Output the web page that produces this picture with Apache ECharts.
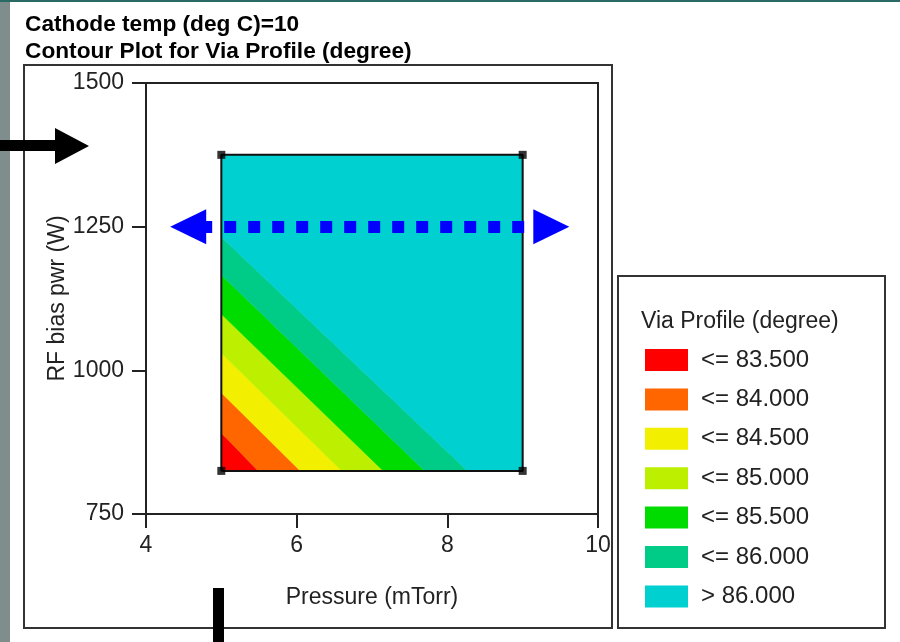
<!DOCTYPE html>
<html>
<head>
<meta charset="utf-8">
<title>Contour Plot for Via Profile</title>
<script src="https://cdn.jsdelivr.net/npm/echarts@6/dist/echarts.min.js"></script>
<style>
  html, body { margin: 0; padding: 0; background: #fff; }
  #chart { width: 900px; height: 642px; }
</style>
</head>
<body>
<div id="chart"></div>
<script>
// contour bands, lowest level first
const levelLabels = ['<= 83.500', '<= 84.000', '<= 84.500', '<= 85.000', '<= 85.500', '<= 86.000', '> 86.000'];
// design region
const pressureRange = [5, 9];
const biasRange = [825, 1375];
// where each contour line (83.5 ... 86) meets the left edge (pressure = 5)
const leftEdgeBias = [891, 961, 1030, 1098, 1166, 1232];
// where each contour line meets the bottom edge (RF bias = 825)
const bottomEdgePressure = [5.49, 6.05, 6.6, 7.15, 7.7, 8.27];
// dotted arrow at RF bias 1250
const arrowLevel = 1250;
const arrowSpan = [4.56, 9.38];

const font = "'Liberation Sans', Arial, sans-serif";
const bandColors = ['#ff0000', '#ff6600', '#f2f000', '#bcf000', '#00dc00', '#00cc88', '#00d0d0'];

// build band polygons (data units) from the edge crossings
const p0 = pressureRange[0], p1 = pressureRange[1];
const b0 = biasRange[0], b1 = biasRange[1];
let bandPolygons = [];
bandPolygons.push([[p0, b0], [p0, leftEdgeBias[0]], [bottomEdgePressure[0], b0]]);
for (let i = 1; i < leftEdgeBias.length; i++) {
  bandPolygons.push([
    [p0, leftEdgeBias[i - 1]], [p0, leftEdgeBias[i]],
    [bottomEdgePressure[i], b0], [bottomEdgePressure[i - 1], b0]
  ]);
}
const last = leftEdgeBias.length - 1;
bandPolygons.push([[p0, leftEdgeBias[last]], [p0, b1], [p1, b1], [p1, b0], [bottomEdgePressure[last], b0]]);

const corners = [[p0, b0], [p0, b1], [p1, b1], [p1, b0]];

let chart = echarts.init(document.getElementById('chart'));

let option = {
  backgroundColor: '#fff',
  animation: false,
  title: {
    text: 'Cathode temp (deg C)=10\nContour Plot for Via Profile (degree)',
    left: 25,
    top: 11,
    padding: 0,
    textStyle: { fontFamily: font, fontSize: 22.7, fontWeight: 'bold', color: '#000', lineHeight: 27 }
  },
  grid: {
    left: 146, top: 83, width: 452, height: 431,
    show: true, borderColor: '#222', borderWidth: 2,
    containLabel: false, outerBoundsMode: 'none'
  },
  xAxis: {
    type: 'value', min: 4, max: 10, interval: 2,
    name: 'Pressure (mTorr)', nameLocation: 'middle', nameGap: 72, nameMoveOverlap: false,
    nameTextStyle: { fontFamily: font, fontSize: 23, color: '#222' },
    axisLine: { show: true, lineStyle: { color: '#222', width: 2 } },
    axisTick: { show: true, length: 14, lineStyle: { color: '#222', width: 2 } },
    axisLabel: { margin: 20, fontFamily: font, fontSize: 23, color: '#222' },
    splitLine: { show: false }
  },
  yAxis: {
    type: 'value', min: 750, max: 1500, interval: 250,
    name: 'RF bias pwr (W)', nameLocation: 'middle', nameGap: 77, nameMoveOverlap: false,
    nameTextStyle: { fontFamily: font, fontSize: 23, color: '#222' },
    axisLine: { show: true, lineStyle: { color: '#222', width: 2 } },
    axisTick: { show: true, length: 14, lineStyle: { color: '#222', width: 2 } },
    axisLabel: { margin: 22, fontFamily: font, fontSize: 23, color: '#222', formatter: (v) => String(v) },
    splitLine: { show: false }
  },
  visualMap: {
    type: 'piecewise',
    seriesIndex: 0,
    dimension: 0,
    orient: 'vertical',
    inverse: true,
    align: 'left',
    left: 645,
    top: 348,
    padding: 0,
    itemWidth: 43,
    itemHeight: 22,
    itemGap: 15.4,
    textGap: 13,
    itemSymbol: 'rect',
    selectedMode: false,
    hoverLink: false,
    pieces: levelLabels.map((label, i) => ({ value: i, label: label, color: bandColors[i] })),
    textStyle: { fontFamily: font, fontSize: 24, color: '#222' }
  },
  graphic: [
    // slide decorations
    { type: 'rect', left: 0, top: 0, shape: { width: 10, height: 642 }, style: { fill: '#7f8e8d' }, z: 1 },
    { type: 'rect', left: 0, top: 0, shape: { width: 900, height: 2 }, style: { fill: '#2a6a64' }, z: 1 },
    // chart frame and legend frame
    { type: 'rect', shape: { x: 24, y: 65, width: 588, height: 563 }, style: { fill: null, stroke: '#333', lineWidth: 2 }, z: 1 },
    { type: 'rect', shape: { x: 618, y: 276, width: 267, height: 352 }, style: { fill: null, stroke: '#333', lineWidth: 2 }, z: 1 },
    {
      type: 'text', x: 641, y: 322, z: 5,
      style: { text: 'Via Profile (degree)', font: "23px 'Liberation Sans', Arial, sans-serif", fill: '#222', verticalAlign: 'middle', align: 'left' }
    },
    // black pointers
    {
      type: 'polygon', z: 20,
      shape: { points: [[0, 140], [55, 140], [55, 128], [89, 146], [55, 164], [55, 151], [0, 151]] },
      style: { fill: '#000' }
    },
    { type: 'rect', z: 20, shape: { x: 213, y: 588, width: 11, height: 54 }, style: { fill: '#000' } }
  ],
  series: [
    {
      name: 'Via Profile',
      type: 'custom',
      coordinateSystem: 'cartesian2d',
      silent: true,
      data: bandPolygons.map((poly, i) => [i, 0]),
      renderItem: function (params, api) {
        const pts = bandPolygons[params.dataIndex].map((p) => api.coord(p));
        const c = api.visual('color');
        return {
          type: 'polygon',
          shape: { points: pts },
          style: { fill: c, stroke: c, lineWidth: 0.6 }
        };
      },
      z: 2
    },
    {
      name: 'outline',
      type: 'line',
      silent: true,
      symbol: 'none',
      data: corners.concat([corners[0]]),
      lineStyle: { color: '#111', width: 2 },
      z: 3
    },
    {
      name: 'corners',
      type: 'scatter',
      silent: true,
      symbol: 'rect',
      symbolSize: 8,
      data: corners,
      itemStyle: { color: '#000' },
      z: 4,
      markLine: {
        silent: true,
        symbol: ['triangle', 'triangle'],
        symbolSize: [35, 36],
        label: { show: false },
        lineStyle: { color: '#0000ff', width: 12, type: [12, 12], dashOffset: 12, cap: 'butt' },
        itemStyle: { color: '#0000ff' },
        emphasis: { disabled: true },
        data: [[{ coord: [arrowSpan[0], arrowLevel] }, { coord: [arrowSpan[1], arrowLevel] }]]
      }
    }
  ]
};

chart.setOption(option);
</script>
</body>
</html>
